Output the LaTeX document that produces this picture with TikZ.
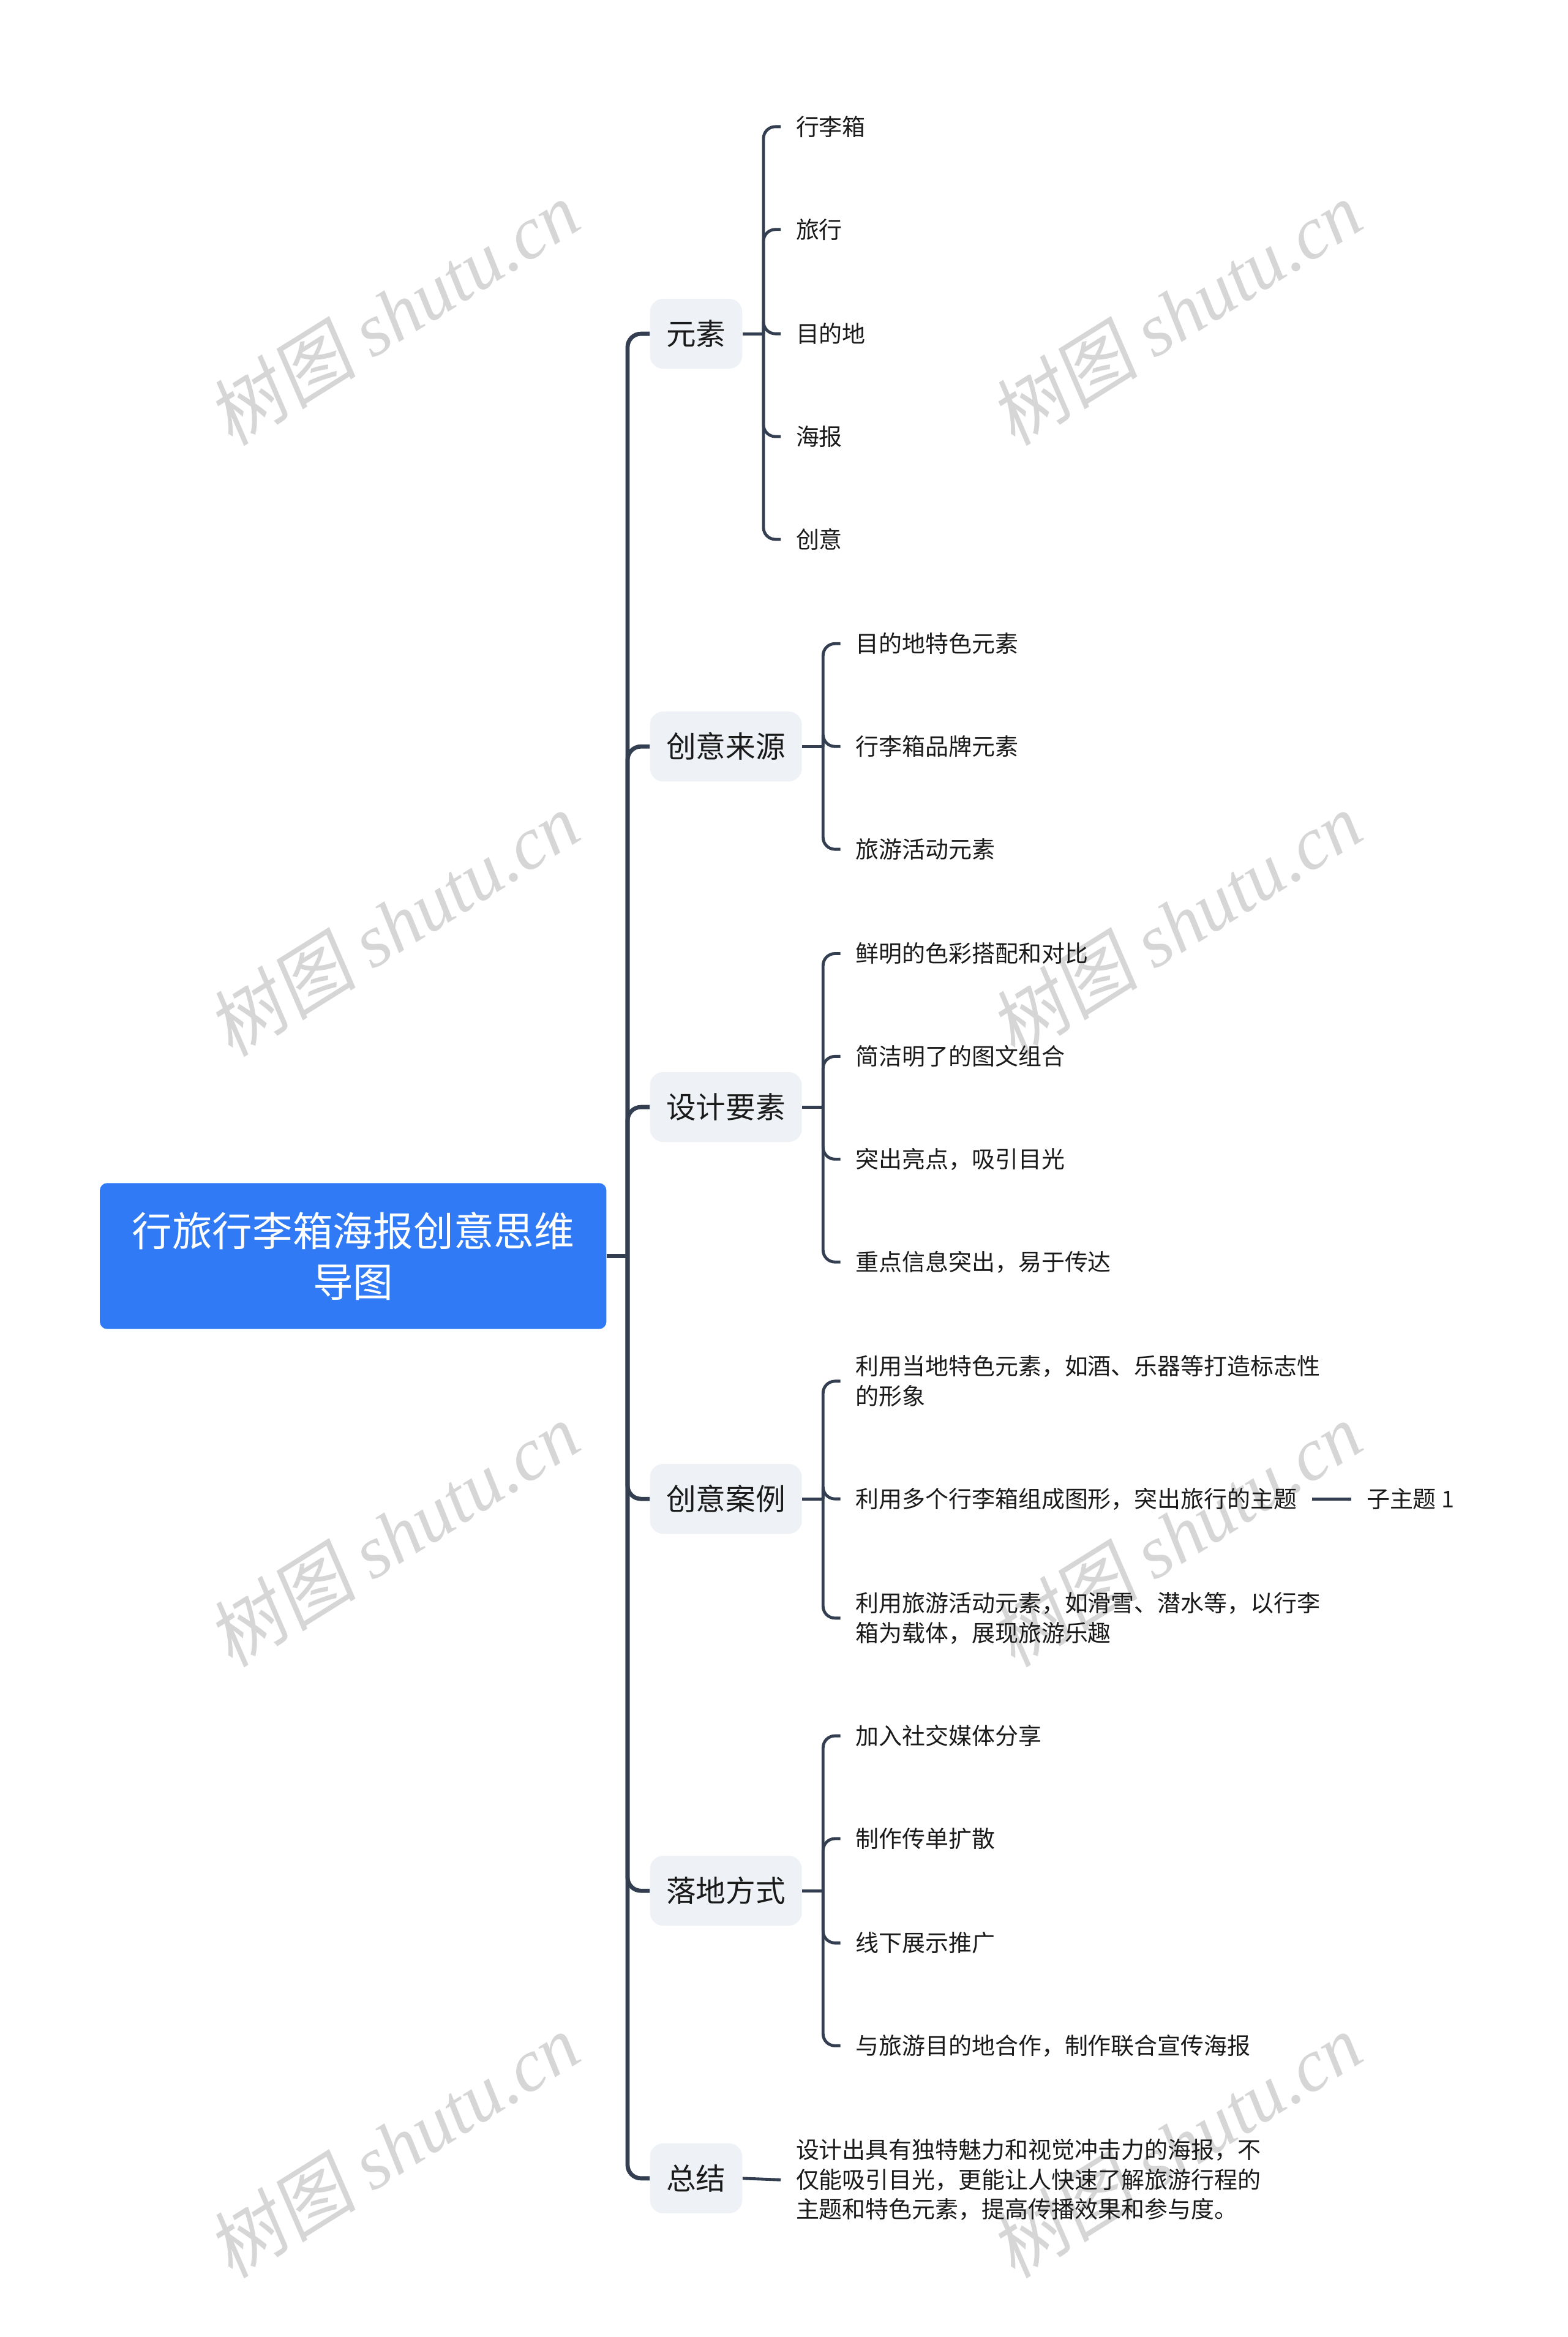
\documentclass[tikz,border=0pt]{standalone}
\usepackage{fontspec}
\setmainfont{Noto Sans CJK SC}
\newfontfamily\wmcjk{Noto Sans CJK SC}[FakeSlant=0.15]
\newfontfamily\wmlatin{Liberation Serif}
\definecolor{rootblue}{HTML}{307BF5}
\definecolor{topicgray}{HTML}{EEF1F5}
\definecolor{linkcol}{HTML}{333F50}
\definecolor{inkcol}{HTML}{1A1A1A}
\definecolor{wmgray}{HTML}{D6D6D6}
\tikzset{
  rootbox/.style={fill=rootblue, rounded corners=5pt, text=white, align=center, inner sep=0pt,
    minimum width=340pt, minimum height=98pt, font=\fontsize{27}{34}\selectfont},
  topicbox/.style={fill=topicgray, rounded corners=9pt, text=inkcol, inner xsep=11pt, inner ysep=0pt,
    minimum height=47pt, font=\fontsize{20}{24}\selectfont},
  leafnode/.style={anchor=west, text=inkcol, align=left, inner xsep=10pt, inner ysep=2pt,
    font=\fontsize{15.6}{20}\selectfont},
  trunkline/.style={draw=linkcol, line width=2.8pt, rounded corners=9pt},
  branchline/.style={draw=linkcol, line width=2pt, rounded corners=8pt},
  wmark/.style={text=wmgray, rotate=32, inner sep=0pt, font=\fontsize{50}{50}\selectfont}
}
\begin{document}
\begin{tikzpicture}[x=1pt, y=-1pt]
\useasboundingbox (0,0) rectangle (1052,1568.5);
% watermark
\foreach \wx in {264,789} \foreach \wy in {210,620,1030,1440}
  \node[wmark] (wm-\wx-\wy) at (\wx,\wy) {{\wmcjk 树图} {\wmlatin\itshape shutu.cn}};
% root
\node[rootbox] (r) at (237,843) {行旅行李箱海报创意思维\\导图};
% main topics
\node[topicbox, anchor=west] (t1) at (436,224) {元素};
\node[topicbox, anchor=west] (t2) at (436,501) {创意来源};
\node[topicbox, anchor=west] (t3) at (436,743) {设计要素};
\node[topicbox, anchor=west] (t4) at (436,1006) {创意案例};
\node[topicbox, anchor=west] (t5) at (436,1269) {落地方式};
\node[topicbox, anchor=west] (t6) at (436,1462) {总结};
% subtopics
\node[leafnode] (t1a) at (524,85) {行李箱};
\node[leafnode] (t1b) at (524,154) {旅行};
\node[leafnode] (t1c) at (524,224) {目的地};
\node[leafnode] (t1d) at (524,293) {海报};
\node[leafnode] (t1e) at (524,362) {创意};
\node[leafnode] (t2a) at (564,432) {目的地特色元素};
\node[leafnode] (t2b) at (564,501) {行李箱品牌元素};
\node[leafnode] (t2c) at (564,570) {旅游活动元素};
\node[leafnode] (t3a) at (564,640) {鲜明的色彩搭配和对比};
\node[leafnode] (t3b) at (564,709) {简洁明了的图文组合};
\node[leafnode] (t3c) at (564,778) {突出亮点，吸引目光};
\node[leafnode] (t3d) at (564,847) {重点信息突出，易于传达};
\node[leafnode] (t4a) at (564,927) {利用当地特色元素，如酒、乐器等打造标志性\\的形象};
\node[leafnode] (t4b) at (564,1006) {利用多个行李箱组成图形，突出旅行的主题};
\node[leafnode] (t4c) at (564,1086) {利用旅游活动元素，如滑雪、潜水等，以行李\\箱为载体，展现旅游乐趣};
\node[leafnode] (t4b1) at (907,1006) {子主题 1};
\node[leafnode] (t5a) at (564,1165) {加入社交媒体分享};
\node[leafnode] (t5b) at (564,1234) {制作传单扩散};
\node[leafnode] (t5c) at (564,1304) {线下展示推广};
\node[leafnode] (t5d) at (564,1373) {与旅游目的地合作，制作联合宣传海报};
\node[leafnode] (t6a) at (524,1463) {设计出具有独特魅力和视觉冲击力的海报，不\\仅能吸引目光，更能让人快速了解旅游行程的\\主题和特色元素，提高传播效果和参与度。};
% connectors
\draw[trunkline] (r.east) -- ++(14,0) coordinate (rj);
\foreach \t in {t1,t2,t3,t4,t5,t6} \draw[trunkline] (rj) |- (\t.west);
\draw[branchline] (t1.east) -- ++(14,0) coordinate (t1j);
\foreach \s in {a,b,c,d,e} \draw[branchline] (t1j) |- (t1\s.west);
\draw[branchline] (t2.east) -- ++(14,0) coordinate (t2j);
\foreach \s in {a,b,c} \draw[branchline] (t2j) |- (t2\s.west);
\draw[branchline] (t3.east) -- ++(14,0) coordinate (t3j);
\foreach \s in {a,b,c,d} \draw[branchline] (t3j) |- (t3\s.west);
\draw[branchline] (t4.east) -- ++(14,0) coordinate (t4j);
\foreach \s in {a,b,c} \draw[branchline] (t4j) |- (t4\s.west);
\draw[branchline] (t4b.east) -- (t4b1.west);
\draw[branchline] (t5.east) -- ++(14,0) coordinate (t5j);
\foreach \s in {a,b,c,d} \draw[branchline] (t5j) |- (t5\s.west);
\draw[branchline] (t6.east) -- (t6a.west);
\end{tikzpicture}
\end{document}
